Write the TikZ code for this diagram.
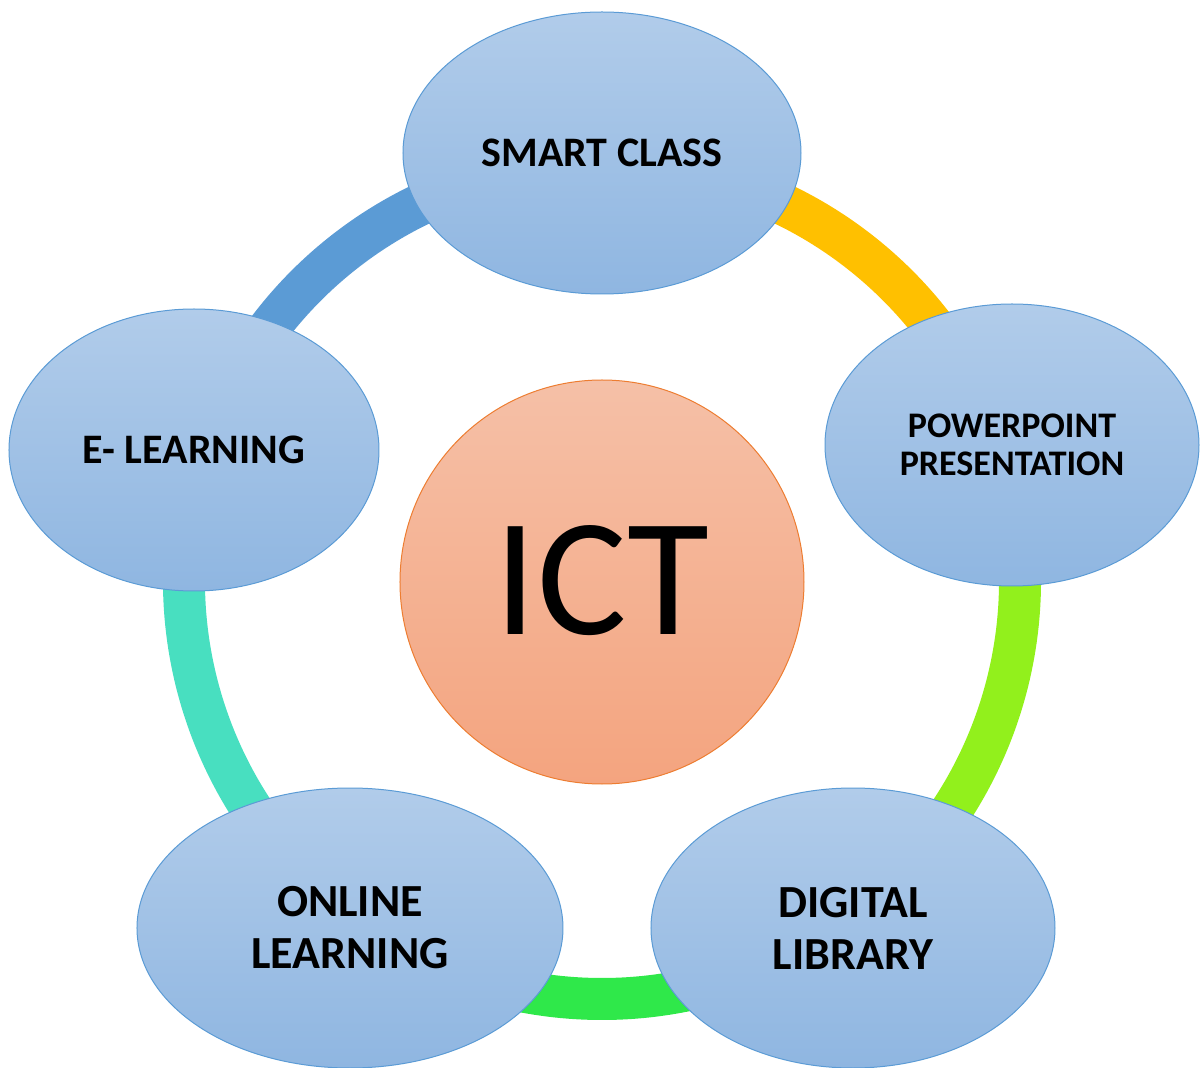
\documentclass[tikz,border=0pt]{standalone}
\usepackage{fontspec}
\setmainfont{Carlito}
\usetikzlibrary{shapes.geometric}
\begin{document}
\begin{tikzpicture}[
            x=1pt, y=1pt,
            font=\bfseries,
            ringseg/.style={line width=42pt},
            styleell/.style={ellipse, draw=ellline, line width=1pt, inner sep=0pt, top color=elltop, bottom color=ellbot, align=center, text=black},
            stylecirc/.style={circle, draw=circline, line width=1pt, inner sep=0pt, top color=circtop, bottom color=circbot, minimum size=404}
        ]
		\def\ringrad{418};
		\definecolor{elltop}{HTML}{B1CCEA}
		\definecolor{ellbot}{HTML}{8FB6E1}
		\definecolor{ellline}{HTML}{5B9BD5}
		\definecolor{circtop}{HTML}{F5C0A7}
		\definecolor{circbot}{HTML}{F4A47F}
		\definecolor{circline}{HTML}{ED7D31}
		\definecolor{ringgold}{HTML}{FFC000}
		\definecolor{ringlime}{HTML}{92F01C}
		\definecolor{ringgreen}{HTML}{2FE84A}
		\definecolor{ringteal}{HTML}{48DFC0}
		\definecolor{ringblue}{HTML}{5B9BD5}
		
		\useasboundingbox (-602,-487) rectangle (598,581);
		
		%Ring
		
		\draw[ringseg, draw=ringgold] (90:\ringrad) arc[start angle=90, end angle=18, radius=\ringrad];
		\draw[ringseg, draw=ringlime] (18:\ringrad) arc[start angle=18, end angle=-54, radius=\ringrad];
		\draw[ringseg, draw=ringgreen] (-54:\ringrad) arc[start angle=-54, end angle=-126, radius=\ringrad];
		\draw[ringseg, draw=ringteal] (-126:\ringrad) arc[start angle=-126, end angle=-198, radius=\ringrad];
		\draw[ringseg, draw=ringblue] (162:\ringrad) arc[start angle=162, end angle=90, radius=\ringrad];
		
		%Topics
		
		\node[styleell, minimum width=398, minimum height=282, font=\bfseries\fontsize{42}{46}\selectfont] (smart) at (0,428) {SMART CLASS};
		\node[styleell, minimum width=374, minimum height=282, font=\bfseries\fontsize{36}{38}\selectfont] (ppt) at (410,136) {POWERPOINT\\PRESENTATION};
		\node[styleell, minimum width=404, minimum height=280, font=\bfseries\fontsize{46}{52}\selectfont] (library) at (251,-347) {DIGITAL\\LIBRARY};
		\node[styleell, minimum width=426, minimum height=280, font=\bfseries\fontsize{46}{52}\selectfont] (online) at (-252,-347) {ONLINE\\LEARNING};
		\node[styleell, minimum width=370, minimum height=282, font=\bfseries\fontsize{42}{46}\selectfont] (elearn) at (-408,131) {E- LEARNING};
		
		\node[stylecirc, font=\fontsize{168}{170}\selectfont] (ict) at (0,-1) {\raisebox{5pt}{ICT}};
    \end{tikzpicture}
\end{document}
